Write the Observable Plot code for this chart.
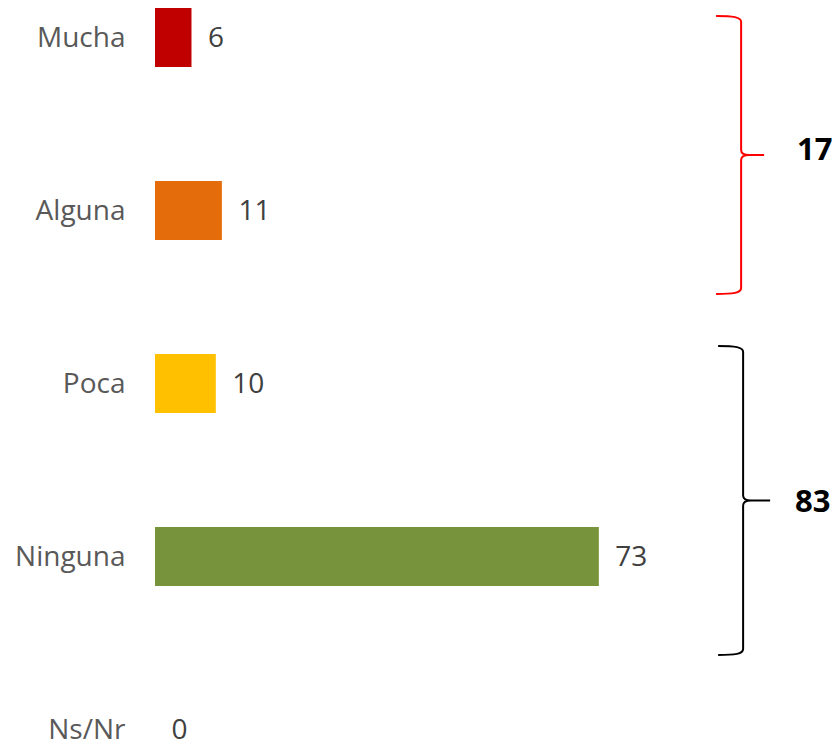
<!DOCTYPE html>
<html>
<head>
<meta charset="utf-8">
<script src="https://cdn.jsdelivr.net/npm/d3@7"></script>
<script src="https://cdn.jsdelivr.net/npm/@observablehq/plot@0.6"></script>
<style>
  html, body { margin: 0; padding: 0; background: #ffffff; }
  #chart { width: 836px; height: 749px; overflow: hidden; }
</style>
</head>
<body>
<div id="chart"></div>
<script>
const categories = ["Mucha", "Alguna", "Poca", "Ninguna", "Ns/Nr"];
const values = [6, 11, 10, 73, 0];
const colors = ["#C00000", "#E46C0A", "#FFC000", "#77933C", "#A6A6A6"];
const groupTotals = [17, 83];
const groupColors = ["#FF0000", "#000000"];
const groupFrom = ["Mucha", "Poca"];
const groupTo = ["Alguna", "Ninguna"];

const data = categories.map((c, i) => ({cat: c, value: values[i], color: colors[i]}));
const groups = groupTotals.map((t, i) => ({total: t, color: groupColors[i], from: groupFrom[i], to: groupTo[i]}));

// brace extents relative to the bands (annotation styling offsets)
const braceTopOffset = [8, -8];
const braceBottomOffset = [54, 69];
const totalDy = [-6, 1];

function braces(index, scales, values, dimensions) {
  const svgNS = "http://www.w3.org/2000/svg";
  const g = document.createElementNS(svgNS, "g");
  let bw = scales.scales && scales.scales.y ? scales.scales.y.bandwidth : undefined;
  if (typeof bw === "function") bw = bw();
  if (typeof bw !== "number" || !isFinite(bw)) {
    bw = typeof scales.y.bandwidth === "function" ? scales.y.bandwidth() : 59;
  }
  groups.forEach((gr, i) => {
    const top = scales.y(gr.from) + braceTopOffset[i];
    const bottom = scales.y(gr.to) + bw + braceBottomOffset[i];
    const mid = (top + bottom) / 2;
    const base = scales.x(96.4);
    const xl = base + (i === 1 ? 2 : 0);
    const tip = xl + 23 + (i === 1 ? 4 : 0);
    const d = `M${xl - 25},${top} C${xl - 8},${top} ${xl},${top + 1} ${xl},${top + 6}
      L${xl},${mid - 5} Q${xl},${mid} ${xl + 8},${mid} L${tip},${mid}
      M${xl + 8},${mid} Q${xl},${mid} ${xl},${mid + 5}
      L${xl},${bottom - 6} C${xl},${bottom - 1} ${xl - 8},${bottom} ${xl - 25},${bottom}`;
    const p = document.createElementNS(svgNS, "path");
    p.setAttribute("d", d);
    p.setAttribute("fill", "none");
    p.setAttribute("stroke", gr.color);
    p.setAttribute("stroke-width", "2");
    g.appendChild(p);
    const t = document.createElementNS(svgNS, "text");
    t.setAttribute("x", base + (i === 1 ? 54 : 56));
    t.setAttribute("y", mid + totalDy[i]);
    t.setAttribute("dy", "0.35em");
    t.setAttribute("text-anchor", "start");
    t.setAttribute("font-weight", "bold");
    t.setAttribute("font-size", "31px");
    t.setAttribute("fill", "#000000");
    t.textContent = String(gr.total);
    g.appendChild(t);
  });
  return g;
}

const chart = Plot.plot({
  width: 836,
  height: 749,
  marginLeft: 155,
  marginRight: 73,
  marginTop: 0,
  marginBottom: 0,
  style: {fontFamily: "'Open Sans', sans-serif", fontSize: "28px", background: "#ffffff", overflow: "visible"},
  x: {domain: [0, 100], axis: null},
  y: {domain: categories, range: [8, 759], paddingInner: 0.659, paddingOuter: 0, axis: null},
  marks: [
    Plot.barX(data, {x: "value", y: "cat", fill: "color"}),
    Plot.text(data, {x: 0, y: "cat", text: "cat", textAnchor: "end", dx: -30, fill: "#595959", fontSize: 28}),
    Plot.text(data, {x: "value", y: "cat", text: d => String(d.value), textAnchor: "start", dx: 16, fill: "#404040", fontSize: 28}),
    braces
  ]
});
document.getElementById("chart").appendChild(chart);
</script>
</body>
</html>
